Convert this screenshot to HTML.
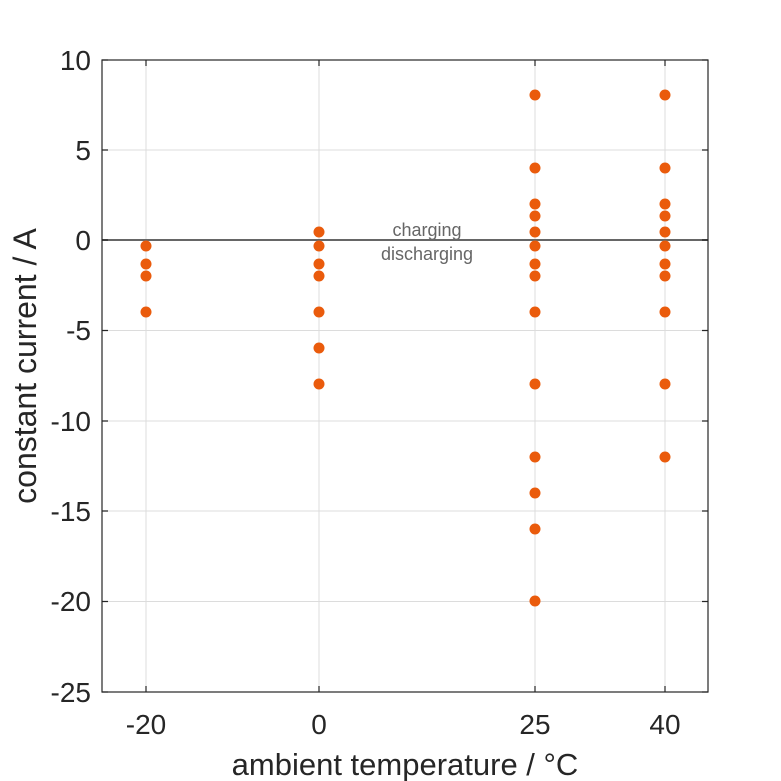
<!DOCTYPE html>
<html><head><meta charset="utf-8"><style>body{margin:0;background:#fff}svg{display:block}</style></head><body>
<svg width="781" height="781" xmlns="http://www.w3.org/2000/svg" font-family="Liberation Sans, sans-serif">
<rect width="781" height="781" fill="#fff"/>
<g stroke="#dcdcdc" stroke-width="1">
<line x1="146" y1="60" x2="146" y2="692"/><line x1="319" y1="60" x2="319" y2="692"/><line x1="535" y1="60" x2="535" y2="692"/><line x1="665" y1="60" x2="665" y2="692"/>
<line x1="102" y1="150" x2="708" y2="150"/><line x1="102" y1="330.5" x2="708" y2="330.5"/><line x1="102" y1="421" x2="708" y2="421"/><line x1="102" y1="511" x2="708" y2="511"/><line x1="102" y1="601.5" x2="708" y2="601.5"/>
</g>
<line x1="102" y1="240" x2="708" y2="240" stroke="#666" stroke-width="2"/>
<rect x="102" y="60" width="606" height="632" fill="none" stroke="#262626" stroke-width="1.2"/>
<g stroke="#262626" stroke-width="1.2">
<path d="M146 692v-6M319 692v-6M535 692v-6M665 692v-6M146 60v6M319 60v6M535 60v6M665 60v6"/>
<path d="M102 60h6M102 150h6M102 240h6M102 330.5h6M102 421h6M102 511h6M102 601.5h6M102 692h6"/>
<path d="M708 60h-6M708 150h-6M708 240h-6M708 330.5h-6M708 421h-6M708 511h-6M708 601.5h-6M708 692h-6"/>
</g>
<g font-size="28" fill="#262626" text-anchor="end">
<text x="91" y="70">10</text><text x="91" y="160">5</text><text x="91" y="250">0</text><text x="91" y="340">-5</text><text x="91" y="431">-10</text><text x="91" y="521">-15</text><text x="91" y="611">-20</text><text x="91" y="702">-25</text>
</g>
<g font-size="28" fill="#262626" text-anchor="middle">
<text x="146" y="734">-20</text><text x="319" y="734">0</text><text x="535" y="734">25</text><text x="665" y="734">40</text>
</g>
<g fill="#262626" text-anchor="middle">
<text x="405" y="775" font-size="31">ambient temperature / °C</text>
<text transform="translate(36 366) rotate(-90)" font-size="32">constant current / A</text>
</g>
<g font-size="18" fill="#666" text-anchor="middle">
<text x="427" y="236">charging</text><text x="427" y="260">discharging</text>
</g>
<g fill="#EA5B0C">
<circle cx="146" cy="246" r="5.5"/><circle cx="146" cy="264" r="5.5"/><circle cx="146" cy="276" r="5.5"/><circle cx="146" cy="312" r="5.5"/>
<circle cx="319" cy="232" r="5.5"/><circle cx="319" cy="246" r="5.5"/><circle cx="319" cy="264" r="5.5"/><circle cx="319" cy="276" r="5.5"/><circle cx="319" cy="312" r="5.5"/><circle cx="319" cy="348" r="5.5"/><circle cx="319" cy="384" r="5.5"/>
<circle cx="535" cy="95" r="5.5"/><circle cx="535" cy="168" r="5.5"/><circle cx="535" cy="204" r="5.5"/><circle cx="535" cy="216" r="5.5"/><circle cx="535" cy="232" r="5.5"/><circle cx="535" cy="246" r="5.5"/><circle cx="535" cy="264" r="5.5"/><circle cx="535" cy="276" r="5.5"/><circle cx="535" cy="312" r="5.5"/><circle cx="535" cy="384" r="5.5"/><circle cx="535" cy="457" r="5.5"/><circle cx="535" cy="493" r="5.5"/><circle cx="535" cy="529" r="5.5"/><circle cx="535" cy="601" r="5.5"/>
<circle cx="665" cy="95" r="5.5"/><circle cx="665" cy="168" r="5.5"/><circle cx="665" cy="204" r="5.5"/><circle cx="665" cy="216" r="5.5"/><circle cx="665" cy="232" r="5.5"/><circle cx="665" cy="246" r="5.5"/><circle cx="665" cy="264" r="5.5"/><circle cx="665" cy="276" r="5.5"/><circle cx="665" cy="312" r="5.5"/><circle cx="665" cy="384" r="5.5"/><circle cx="665" cy="457" r="5.5"/>
</g>
</svg>
</body></html>
